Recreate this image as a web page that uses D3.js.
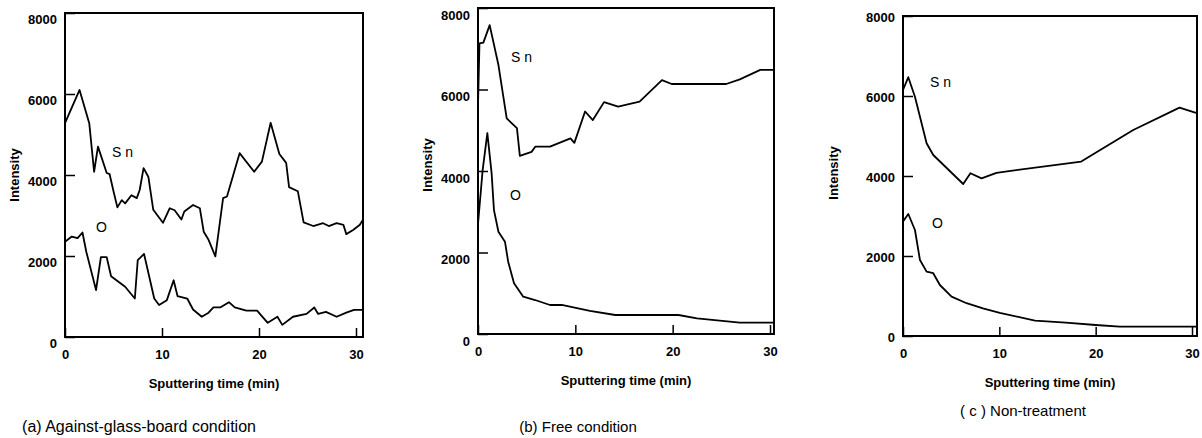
<!DOCTYPE html>
<html>
<head>
<meta charset="utf-8">
<script src="https://cdn.jsdelivr.net/npm/d3@7"></script>
<style>
  body { margin: 0; background: #fff; }
  text { font-family: "Liberation Sans", Arial, sans-serif; fill: #000; }
</style>
</head>
<body>
<svg id="chart" width="1202" height="438"></svg>
<script>
// ---- data (time in min, intensity in counts) ----
let yTicks = [0, 2000, 4000, 6000, 8000];
let xTicks = [0, 10, 20, 30];

// (a) against-glass-board
let aSnTime = [0, 1.5, 2.5, 3.0, 3.4, 4.3, 4.6, 5.0, 5.4, 5.85, 6.2, 6.85, 7.4, 7.7, 8.1, 8.6, 9.1, 10.1, 10.8, 11.3, 12.0, 12.3, 13.2, 13.9, 14.3, 14.8, 15.5, 16.3, 16.7, 18.0, 19.5, 20.3, 21.2, 22.1, 22.8, 23.1, 24.0, 24.6, 25.6, 26.6, 27.2, 28.0, 28.7, 29.0, 29.7, 30.4, 30.75];
let aSnValue = [5280, 6100, 5280, 4080, 4700, 4050, 4020, 3600, 3200, 3380, 3300, 3500, 3430, 3630, 4170, 3950, 3140, 2820, 3180, 3130, 2900, 3100, 3260, 3180, 2600, 2400, 1990, 3430, 3470, 4540, 4080, 4330, 5290, 4520, 4300, 3700, 3600, 2830, 2740, 2810, 2740, 2810, 2770, 2540, 2640, 2770, 2910];
let aOTime = [0, 0.7, 1.3, 1.8, 2.2, 3.2, 3.7, 4.3, 4.75, 6.2, 7.2, 7.5, 8.15, 9.2, 9.7, 10.5, 11.2, 11.6, 12.6, 13.2, 14.1, 14.8, 15.3, 16.0, 16.9, 17.5, 18.7, 19.8, 20.9, 21.9, 22.4, 23.5, 24.9, 25.7, 26.1, 26.9, 28.0, 29.0, 29.8, 30.75];
let aOValue = [2350, 2480, 2440, 2580, 2100, 1160, 1970, 1970, 1500, 1240, 950, 1900, 2050, 950, 790, 910, 1400, 1010, 950, 680, 500, 600, 730, 730, 860, 730, 650, 650, 350, 500, 300, 500, 570, 730, 570, 620, 500, 600, 670, 670];

// (b) free condition
let bSnTime = [0, 0.15, 0.55, 1.2, 2.1, 2.95, 4.0, 4.3, 5.5, 5.9, 7.4, 9.5, 9.9, 11.0, 11.8, 12.95, 14.4, 16.6, 18.9, 19.9, 25.5, 26.9, 29.0, 30.4];
let bSnValue = [5600, 7130, 7150, 7580, 6600, 5290, 5050, 4370, 4470, 4600, 4600, 4800, 4690, 5460, 5250, 5690, 5580, 5700, 6230, 6135, 6135, 6250, 6480, 6480];
let bOTime = [0, 0.48, 0.96, 1.4, 1.64, 2.1, 2.77, 3.1, 3.7, 4.65, 5.86, 7.4, 8.6, 11.5, 14.1, 20.6, 22.5, 26.9, 30.4];
let bOValue = [2700, 4030, 4930, 3940, 3040, 2510, 2265, 1775, 1245, 915, 834, 712, 712, 570, 466, 466, 385, 277, 277];

// (c) non-treatment
let cSnTime = [0, 0.55, 1.24, 2.45, 3.14, 6.25, 7.0, 8.15, 9.7, 18.5, 23.9, 28.7, 30.5];
let cSnValue = [6150, 6470, 5980, 4820, 4525, 3800, 4070, 3940, 4080, 4360, 5150, 5710, 5570];
let cOTime = [0, 0.55, 1.24, 1.76, 2.45, 3.14, 3.83, 5.04, 6.6, 8.3, 10.05, 13.7, 16.9, 20.0, 22.5, 30.5];
let cOValue = [2860, 3050, 2650, 1900, 1610, 1570, 1275, 985, 820, 690, 580, 385, 335, 275, 235, 235];

let captions = ["(a) Against-glass-board condition", "(b) Free condition", "( c ) Non-treatment"];

// ---- panel layout ----
let panels = [
  { left: 65, right: 363, top: 13, bottom: 337, x30: 356, lblShift: 6, titleX: 14, titleY: 175,
    snT: aSnTime, snV: aSnValue, oT: aOTime, oV: aOValue,
    snLbl: [112, 157], oLbl: [96, 232], cap: [139, 432], capSize: 16 },
  { left: 478, right: 774, top: 8, bottom: 334, x30: 770, lblShift: 7, titleX: 427, titleY: 165,
    snT: bSnTime, snV: bSnValue, oT: bOTime, oV: bOValue,
    snLbl: [511, 62], oLbl: [510, 200], cap: [578, 432], capSize: 15 },
  { left: 903, right: 1197, top: 16, bottom: 336, x30: 1192, lblShift: 1, titleX: 833, titleY: 173,
    snT: cSnTime, snV: cSnValue, oT: cOTime, oV: cOValue,
    snLbl: [930, 87], oLbl: [932, 228], cap: [1023, 416], capSize: 15 }
];

let svg = d3.select("#chart");

panels.forEach(function(p, i) {
  let x = d3.scaleLinear().domain([0, 30]).range([p.left, p.x30]);
  let y = d3.scaleLinear().domain([0, 8000]).range([p.bottom, p.top]);
  let g = svg.append("g");

  // frame
  g.append("rect")
    .attr("x", p.left).attr("y", p.top)
    .attr("width", p.right - p.left).attr("height", p.bottom - p.top)
    .attr("fill", "none").attr("stroke", "#000").attr("stroke-width", 2);

  // inward ticks
  let xAxis = g.append("g")
    .attr("transform", "translate(0," + p.bottom + ")")
    .call(d3.axisBottom(x).tickValues(xTicks).tickSize(-9).tickPadding(13).tickFormat(d3.format("d")));
  let yAxis = g.append("g")
    .attr("transform", "translate(" + p.left + ",0)")
    .call(d3.axisLeft(y).tickValues(yTicks).tickSize(-10).tickPadding(8).tickFormat(d3.format("d")));

  [xAxis, yAxis].forEach(function(ax) {
    ax.select(".domain").remove();
    ax.selectAll(".tick line").attr("stroke", "#000").attr("stroke-width", 1.5);
    ax.selectAll("text")
      .style("font-size", "13px").style("font-weight", "bold")
      .style("font-family", '"Liberation Sans", Arial, sans-serif');
  });
  yAxis.selectAll("text").attr("dy", (0.32 * 13 + p.lblShift) + "px");

  // series
  let line = d3.line().x(d => x(d[0])).y(d => y(d[1]));
  let sn = d3.zip(p.snT, p.snV);
  let o = d3.zip(p.oT, p.oV);
  [sn, o].forEach(function(data) {
    g.append("path")
      .datum(data)
      .attr("d", line)
      .attr("fill", "none")
      .attr("stroke", "#000")
      .attr("stroke-width", 1.8)
      .attr("stroke-linejoin", "round");
  });

  // series labels
  g.append("text").attr("x", p.snLbl[0]).attr("y", p.snLbl[1])
    .style("font-size", "14px").text("S n");
  g.append("text").attr("x", p.oLbl[0]).attr("y", p.oLbl[1])
    .style("font-size", "14px").text("O");

  // axis titles
  g.append("text")
    .attr("transform", "translate(" + p.titleX + "," + p.titleY + ") rotate(-90)")
    .attr("text-anchor", "middle").attr("dy", "0.35em")
    .style("font-size", "13px").style("font-weight", "bold")
    .text("Intensity");
  g.append("text")
    .attr("x", (p.left + p.right) / 2).attr("y", p.bottom + 51)
    .attr("text-anchor", "middle")
    .style("font-size", "13px").style("font-weight", "bold")
    .text("Sputtering time (min)");

  // caption
  g.append("text")
    .attr("x", p.cap[0]).attr("y", p.cap[1])
    .attr("text-anchor", "middle")
    .style("font-size", p.capSize + "px")
    .text(captions[i]);
});
</script>
</body>
</html>
